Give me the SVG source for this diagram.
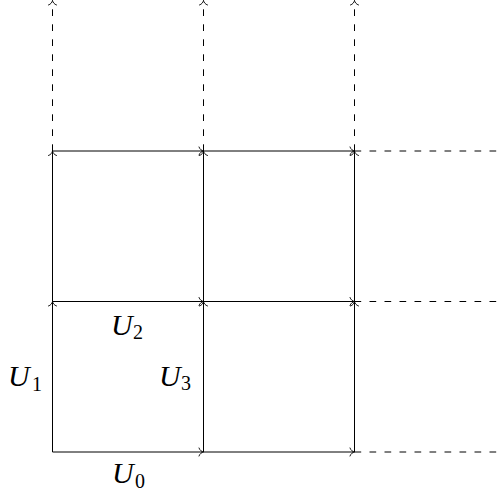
<svg xmlns="http://www.w3.org/2000/svg" width="501" height="494" viewBox="0 0 501 494">
  <defs>
    <marker id="to" markerUnits="userSpaceOnUse" markerWidth="12" markerHeight="12" viewBox="-8 -6 10 12" refX="0" refY="0" orient="auto" overflow="visible">
      <path d="M -4.5,-4 C -3.8,-1.6 -1.6,-0.35 0,0 C -1.6,0.35 -3.8,1.6 -4.5,4" fill="none" stroke="#000" stroke-width="0.9" stroke-linecap="round"/>
    </marker>
  </defs>
  <style>
    .s { stroke: #000; stroke-width: 1; fill: none; marker-end: url(#to); }
    .d { stroke: #000; stroke-width: 1; fill: none; stroke-dasharray: 6.7 8.3; }
    .da { marker-end: url(#to); }
    text { font-family: "Liberation Serif", serif; fill: #000; }
    .u { font-style: italic; font-size: 30px; }
    .sub { font-size: 20px; }
  </style>
  <g id="connectors">
    <line class="s" x1="52.5" y1="452" x2="203.5" y2="452"/>
    <line class="s" x1="203.5" y1="452" x2="354.5" y2="452"/>
    <line class="s" x1="52.5" y1="301.5" x2="203.5" y2="301.5"/>
    <line class="s" x1="203.5" y1="301.5" x2="354.5" y2="301.5"/>
    <line class="s" x1="52.5" y1="151" x2="203.5" y2="151"/>
    <line class="s" x1="203.5" y1="151" x2="354.5" y2="151"/>
    <line class="s" x1="52.5" y1="452" x2="52.5" y2="301.5"/>
    <line class="s" x1="52.5" y1="301.5" x2="52.5" y2="151"/>
    <line class="s" x1="203.5" y1="452" x2="203.5" y2="301.5"/>
    <line class="s" x1="203.5" y1="301.5" x2="203.5" y2="151"/>
    <line class="s" x1="354.5" y1="452" x2="354.5" y2="301.5"/>
    <line class="s" x1="354.5" y1="301.5" x2="354.5" y2="151"/>
    <line class="d da" x1="52.5" y1="151" x2="52.5" y2="0.5"/>
    <line class="d da" x1="203.5" y1="151" x2="203.5" y2="0.5"/>
    <line class="d da" x1="354.5" y1="151" x2="354.5" y2="0.5"/>
    <line class="d" x1="354.5" y1="151" x2="505" y2="151"/>
    <line class="d" x1="354.5" y1="301.5" x2="505" y2="301.5"/>
    <line class="d" x1="354.5" y1="452" x2="505" y2="452"/>
  </g>
  <g id="label-U0">
    <text class="u" x="112" y="483">U</text>
    <text class="sub" x="135" y="488">0</text>
  </g>
  <g id="label-U1">
    <text class="u" x="8" y="386">U</text>
    <text class="sub" x="32" y="391">1</text>
  </g>
  <g id="label-U2">
    <text class="u" x="111" y="335">U</text>
    <text class="sub" x="133" y="339">2</text>
  </g>
  <g id="label-U3">
    <text class="u" x="159" y="386">U</text>
    <text class="sub" x="181" y="390">3</text>
  </g>
</svg>
